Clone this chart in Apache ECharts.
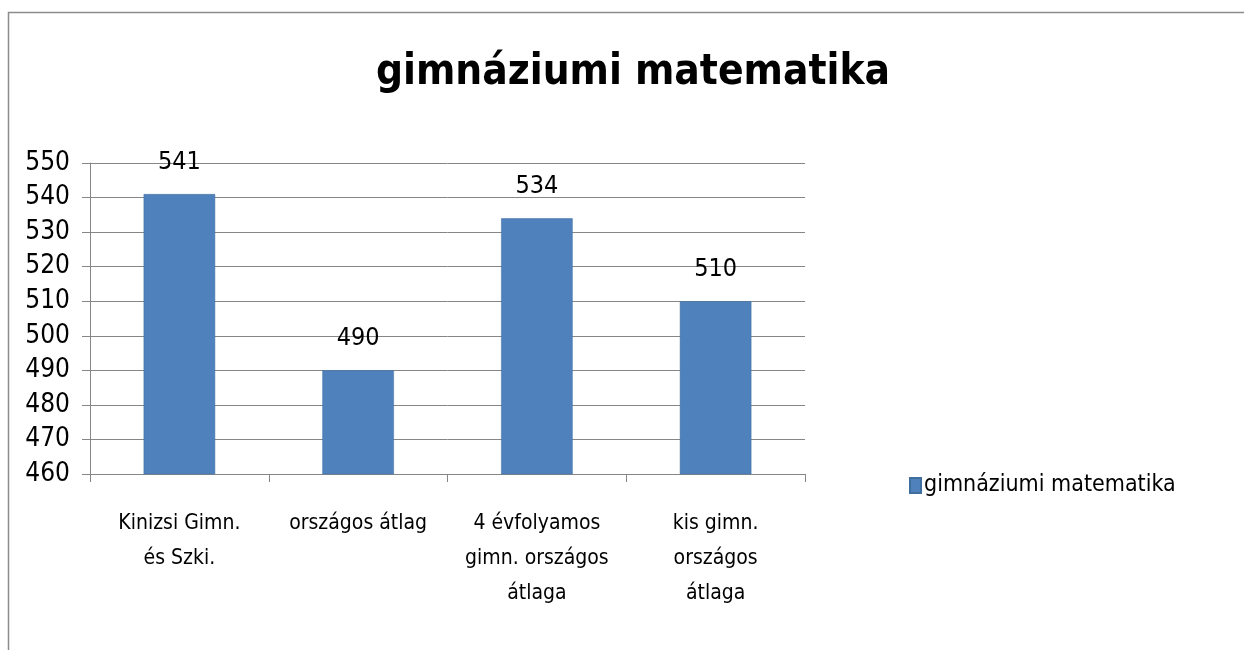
<!DOCTYPE html>
<html>
<head>
<meta charset="utf-8">
<script src="https://cdn.jsdelivr.net/npm/echarts@6/dist/echarts.min.js"></script>
<style>
html, body { margin: 0; padding: 0; background: #fff; }
#main { width: 1244px; height: 650px; }
</style>
</head>
<body>
<div id="main"></div>
<script>
// adatok
var categories = ['Kinizsi Gimn.\nés Szki.', 'országos átlag', '4 évfolyamos\ngimn. országos\nátlaga', 'kis gimn.\nországos\nátlaga'];
var values = [541, 490, 534, 510];
var seriesName = 'gimnáziumi matematika';
var yMin = 460, yMax = 550, yStep = 10;

var font = '"DejaVu Sans Condensed", "Liberation Sans Narrow", sans-serif';

var myChart = echarts.init(document.getElementById('main'));
var option = {
	backgroundColor : '#fff',
	animation : false,
	textStyle : { fontFamily : font },
	title : {
		text : 'gimnáziumi matematika',
		left : 628,
		textAlign : 'center',
		top : 47,
		textStyle : { fontFamily : font, fontSize : 42, fontWeight : 'bold', color : '#000' }
	},
	legend : {
		data : [seriesName],
		left : 904,
		top : 469,
		itemWidth : 11,
		itemHeight : 15,
		itemGap : 4,
		icon : 'rect',
		textStyle : { fontFamily : font, fontSize : 23, color : '#000', padding : [0, 0, 0, -2] }
	},
	grid : { left : 90, right : 439, top : 163, bottom : 176 },
	xAxis : {
		type : 'category',
		data : categories,
		axisLine : { lineStyle : { color : '#868686' } },
		axisTick : { show : true, length : 8, lineStyle : { color : '#868686' } },
		axisLabel : { color : '#000', fontSize : 21, lineHeight : 35, margin : 32, interval : 0 }
	},
	yAxis : {
		type : 'value',
		min : yMin,
		max : yMax,
		interval : yStep,
		axisLine : { show : true, lineStyle : { color : '#868686' } },
		axisTick : { show : true, length : 8, lineStyle : { color : '#868686' } },
		axisLabel : { color : '#000', fontSize : 26, margin : 20 },
		splitLine : { lineStyle : { color : '#868686' } }
	},
	series : [{
		name : seriesName,
		type : 'bar',
		data : values,
		barWidth : '40%',
		itemStyle : { color : '#4F81BD', borderColor : '#3f6f9f', borderWidth : 0.5 },
		label : { show : true, position : 'top', distance : 19, color : '#000', fontSize : 25 }
	}],
	graphic : [{
		type : 'polyline',
		shape : { points : [[8.5, 650], [8.5, 12.5], [1244, 12.5]] },
		style : { stroke : '#8c8c8c', lineWidth : 1.5, fill : null },
		silent : true
	}]
};
myChart.setOption(option);
</script>
</body>
</html>
